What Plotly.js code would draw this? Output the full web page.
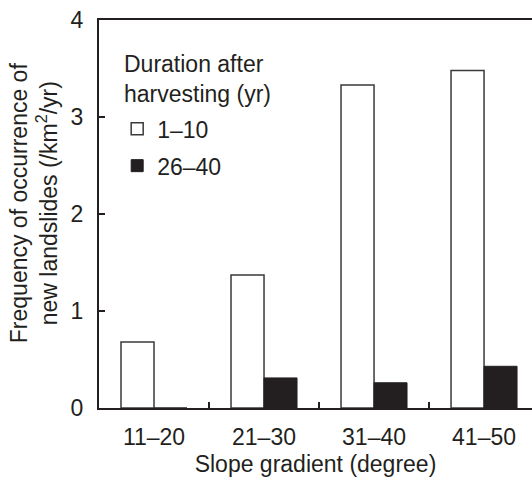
<!DOCTYPE html>
<html>
<head>
<meta charset="utf-8">
<script src="https://cdn.plot.ly/plotly-3.0.1.min.js"></script>
<style>html,body{margin:0;padding:0;background:#fff;}#chart{width:532px;height:477px;}</style>
</head>
<body>
<div id="chart"></div>
<script>
var categories = ["11\u201320", "21\u201330", "31\u201340", "41\u201350"];
var series1Name = "1\u201310";
var series1Values = [0.68, 1.37, 3.33, 3.48];
var series2Name = "26\u201340";
var series2Values = [0.0, 0.31, 0.26, 0.43];
var yTickVals = [0, 1, 2, 3, 4];
var legendTitle = "Duration after<br>harvesting (yr)";
var yTitle = "Frequency of occurrence of<br>new landslides (/km<sup>2</sup>/yr)";
var xTitle = "Slope gradient (degree)";

var FONT = "Liberation Sans, Arial, sans-serif";
var INK = "#231f20";
var FS = 23;

var traces = [
  {type: "bar", x: categories, y: series1Values, name: series1Name, legendgroup: "a",
   marker: {color: "#ffffff", line: {color: "#3a3a3a", width: 1.5}}},
  {type: "bar", x: categories, y: series2Values, name: series2Name, legendgroup: "b",
   marker: {color: INK, line: {color: INK, width: 1}}}
];

var layout = {
  width: 532, height: 477,
  margin: {l: 99, r: 0, t: 20, b: 69},
  paper_bgcolor: "#fff", plot_bgcolor: "#fff",
  font: {family: FONT, size: FS, color: INK},
  barmode: "group", bargap: 0.4, bargroupgap: 0,
  showlegend: true,
  legend: {
    x: 0.042, y: 0.775, xanchor: "left", yanchor: "top",
    bgcolor: "rgba(0,0,0,0)", font: {family: FONT, size: FS, color: INK},
    tracegroupgap: 4, itemclick: false
  },
  annotations: [
    {text: legendTitle, xref: "paper", yref: "paper", x: 0.052, y: 0.925,
     xanchor: "left", yanchor: "top", align: "left", showarrow: false,
     font: {family: FONT, size: FS, color: INK}},
    {text: yTitle, xref: "paper", yref: "paper", x: -0.15, y: 0.528,
     xanchor: "center", yanchor: "middle", textangle: -90, showarrow: false,
     font: {family: FONT, size: FS, color: INK}}
  ],
  xaxis: {
    type: "category", range: [-0.5, 3.436],
    showline: true, linecolor: INK, linewidth: 2, mirror: true,
    ticks: "inside", ticklen: 6, tickwidth: 2, tickcolor: INK, tickson: "boundaries",
    showgrid: false, zeroline: false,
    tickfont: {family: FONT, size: FS, color: INK}, ticklabelstandoff: 7,
    title: {text: xTitle, font: {family: FONT, size: FS, color: INK}, standoff: 11}
  },
  yaxis: {
    range: [0, 4], tickvals: yTickVals, ticktext: yTickVals.map(String),
    showline: true, linecolor: INK, linewidth: 2,
    ticks: "inside", ticklen: 6, tickwidth: 1.5, tickcolor: INK,
    showgrid: false, zeroline: false,
    tickfont: {family: FONT, size: FS, color: INK}, ticklabelstandoff: 9
  }
};

Plotly.newPlot("chart", traces, layout, {staticPlot: true, displayModeBar: false});
</script>
</body>
</html>
